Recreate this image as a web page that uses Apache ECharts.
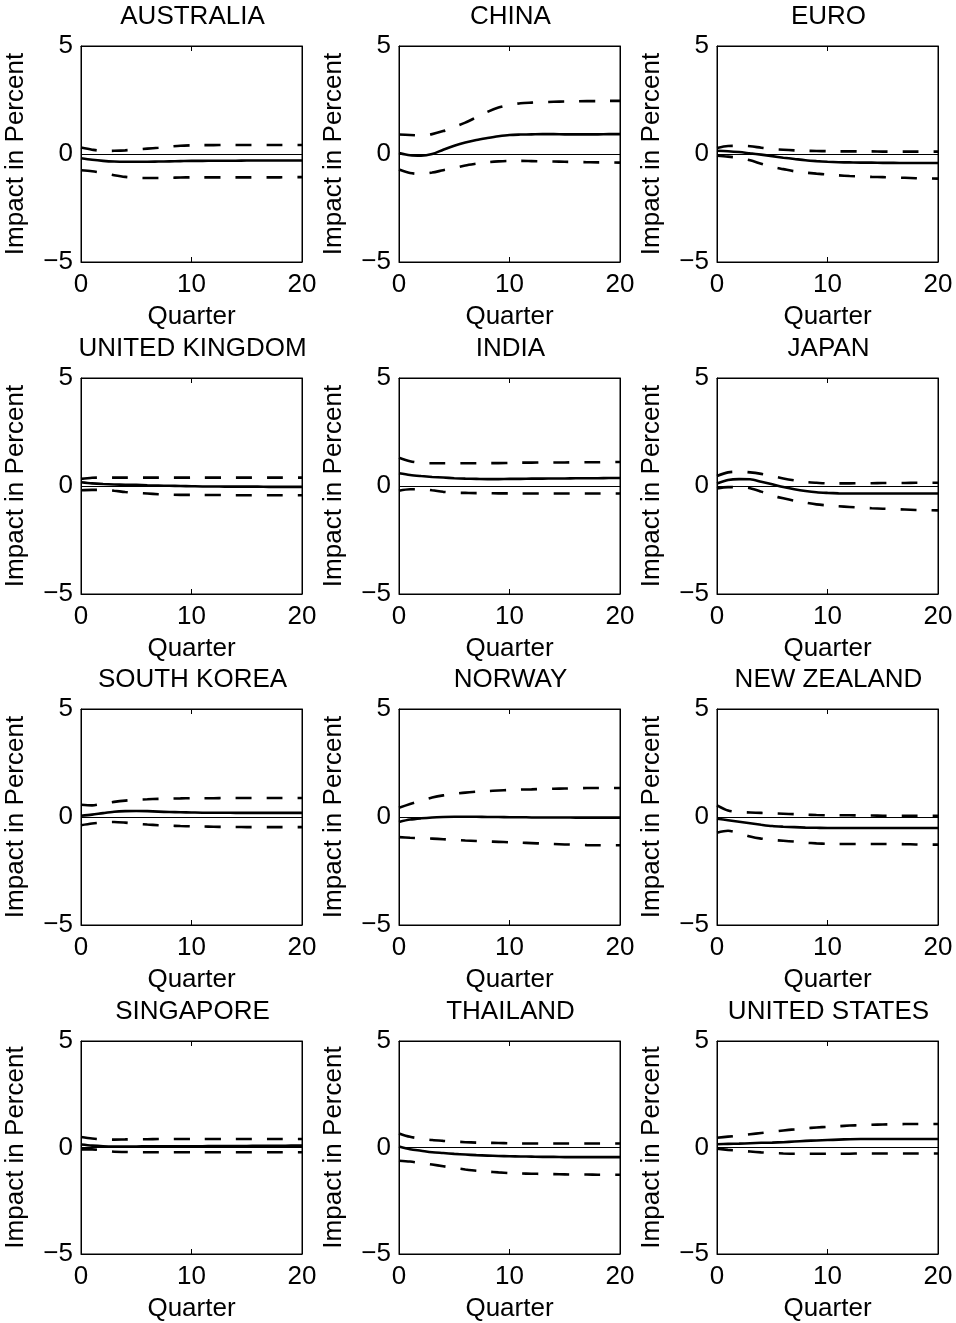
<!DOCTYPE html>
<html>
<head>
<meta charset="utf-8">
<script src="https://cdn.jsdelivr.net/npm/echarts@6/dist/echarts.min.js"></script>
<style>
html,body{margin:0;padding:0;background:#fff;}
#c{width:956px;height:1323px;}
</style>
</head>
<body>
<div id="c"></div>
<script>
// ---- DATA ----
const quarters = [0,1,2,3,4,5,6,7,8,9,10,11,12,13,14,15,16,17,18,19,20];
const countries = ['AUSTRALIA','CHINA','EURO','UNITED KINGDOM','INDIA','JAPAN','SOUTH KOREA','NORWAY','NEW ZEALAND','SINGAPORE','THAILAND','UNITED STATES'];
const xTicks = [0,10,20];
const yTicks = [-5,0,5];

const AUS_mid = [-0.2,-0.27,-0.32,-0.35,-0.36,-0.36,-0.36,-0.35,-0.34,-0.33,-0.32,-0.32,-0.31,-0.31,-0.31,-0.3,-0.3,-0.3,-0.3,-0.3,-0.3];
const AUS_up  = [0.3,0.2,0.14,0.15,0.17,0.21,0.25,0.29,0.34,0.38,0.4,0.41,0.41,0.42,0.42,0.42,0.42,0.42,0.42,0.42,0.42];
const AUS_lo  = [-0.75,-0.8,-0.88,-0.98,-1.06,-1.1,-1.11,-1.11,-1.1,-1.09,-1.08,-1.08,-1.08,-1.08,-1.08,-1.08,-1.08,-1.08,-1.08,-1.07,-1.07];

const CHN_mid = [0.05,-0.06,-0.08,0.0,0.2,0.38,0.53,0.65,0.74,0.82,0.88,0.9,0.91,0.92,0.92,0.91,0.91,0.91,0.91,0.92,0.92];
const CHN_up  = [0.9,0.88,0.86,0.92,1.06,1.25,1.45,1.7,1.95,2.15,2.27,2.35,2.38,2.4,2.42,2.43,2.44,2.45,2.45,2.46,2.46];
const CHN_lo  = [-0.72,-0.88,-0.92,-0.86,-0.75,-0.65,-0.53,-0.45,-0.38,-0.34,-0.32,-0.32,-0.33,-0.34,-0.35,-0.36,-0.37,-0.38,-0.39,-0.39,-0.4];

const EUR_mid = [0.15,0.13,0.09,0.03,-0.03,-0.1,-0.17,-0.23,-0.29,-0.33,-0.36,-0.38,-0.39,-0.4,-0.4,-0.41,-0.41,-0.42,-0.42,-0.42,-0.42];
const EUR_up  = [0.28,0.37,0.38,0.36,0.29,0.23,0.2,0.17,0.15,0.14,0.13,0.12,0.12,0.12,0.12,0.11,0.11,0.11,0.11,0.11,0.11];
const EUR_lo  = [-0.08,-0.12,-0.18,-0.29,-0.45,-0.6,-0.7,-0.8,-0.86,-0.91,-0.95,-0.99,-1.02,-1.04,-1.06,-1.07,-1.09,-1.1,-1.12,-1.13,-1.14];

const GBR_mid = [0.17,0.12,0.09,0.07,0.06,0.05,0.03,0.02,0.01,0,-0.01,-0.02,-0.02,-0.03,-0.03,-0.03,-0.03,-0.04,-0.04,-0.04,-0.04];
const GBR_up  = [0.33,0.38,0.39,0.39,0.39,0.39,0.39,0.39,0.39,0.39,0.39,0.39,0.39,0.39,0.39,0.39,0.39,0.39,0.39,0.39,0.39];
const GBR_lo  = [-0.2,-0.18,-0.18,-0.22,-0.28,-0.32,-0.35,-0.38,-0.4,-0.41,-0.41,-0.42,-0.42,-0.42,-0.43,-0.43,-0.43,-0.43,-0.43,-0.43,-0.43];

const IND_mid = [0.59,0.51,0.46,0.42,0.39,0.36,0.34,0.33,0.32,0.32,0.33,0.33,0.34,0.34,0.35,0.35,0.36,0.36,0.36,0.37,0.37];
const IND_up  = [1.31,1.15,1.07,1.05,1.05,1.05,1.05,1.05,1.06,1.06,1.07,1.08,1.08,1.09,1.09,1.09,1.1,1.1,1.1,1.11,1.11];
const IND_lo  = [-0.22,-0.15,-0.15,-0.2,-0.27,-0.31,-0.32,-0.33,-0.33,-0.34,-0.34,-0.35,-0.35,-0.35,-0.35,-0.35,-0.35,-0.35,-0.35,-0.35,-0.35];

const JPN_mid = [0.12,0.28,0.32,0.31,0.2,0.08,-0.05,-0.15,-0.23,-0.29,-0.32,-0.34,-0.35,-0.35,-0.35,-0.35,-0.35,-0.35,-0.35,-0.35,-0.35];
const JPN_up  = [0.46,0.63,0.66,0.63,0.56,0.46,0.35,0.26,0.19,0.15,0.12,0.12,0.12,0.13,0.13,0.14,0.14,0.14,0.15,0.15,0.15];
const JPN_lo  = [-0.11,-0.05,-0.05,-0.1,-0.26,-0.45,-0.57,-0.68,-0.77,-0.85,-0.9,-0.94,-0.97,-1.0,-1.03,-1.05,-1.07,-1.09,-1.11,-1.12,-1.13];

const KOR_mid = [0.06,0.11,0.18,0.24,0.27,0.28,0.27,0.25,0.23,0.22,0.21,0.2,0.2,0.2,0.19,0.19,0.19,0.19,0.19,0.19,0.19];
const KOR_up  = [0.57,0.54,0.62,0.7,0.76,0.8,0.82,0.84,0.85,0.86,0.87,0.87,0.87,0.88,0.88,0.88,0.88,0.88,0.88,0.88,0.88];
const KOR_lo  = [-0.38,-0.3,-0.25,-0.23,-0.26,-0.31,-0.35,-0.38,-0.4,-0.42,-0.43,-0.44,-0.45,-0.46,-0.46,-0.47,-0.47,-0.47,-0.47,-0.47,-0.47];

const NOR_mid = [-0.23,-0.12,-0.06,-0.02,0,0.01,0.01,0.01,0,0,-0.01,-0.01,-0.02,-0.02,-0.02,-0.02,-0.03,-0.03,-0.03,-0.03,-0.03];
const NOR_up  = [0.43,0.6,0.76,0.9,1.0,1.07,1.13,1.17,1.2,1.23,1.25,1.27,1.28,1.3,1.31,1.32,1.33,1.34,1.34,1.34,1.34];
const NOR_lo  = [-0.93,-0.96,-0.98,-1.0,-1.03,-1.06,-1.09,-1.11,-1.13,-1.15,-1.17,-1.19,-1.21,-1.23,-1.25,-1.27,-1.28,-1.3,-1.31,-1.31,-1.31];

const NZL_mid = [-0.08,-0.15,-0.22,-0.29,-0.36,-0.42,-0.45,-0.47,-0.49,-0.5,-0.51,-0.51,-0.51,-0.51,-0.51,-0.51,-0.51,-0.51,-0.51,-0.51,-0.51];
const NZL_up  = [0.54,0.3,0.23,0.21,0.19,0.17,0.15,0.13,0.11,0.09,0.08,0.08,0.08,0.07,0.07,0.06,0.06,0.06,0.06,0.06,0.06];
const NZL_lo  = [-0.73,-0.64,-0.75,-0.9,-1.0,-1.06,-1.1,-1.14,-1.19,-1.22,-1.24,-1.25,-1.25,-1.25,-1.25,-1.25,-1.25,-1.26,-1.27,-1.28,-1.28];

const SGP_mid = [0.14,0.09,0.06,0.05,0.05,0.05,0.06,0.06,0.06,0.06,0.06,0.06,0.07,0.07,0.07,0.07,0.08,0.08,0.08,0.09,0.09];
const SGP_up  = [0.49,0.42,0.38,0.37,0.38,0.39,0.39,0.4,0.4,0.4,0.4,0.4,0.4,0.4,0.4,0.4,0.4,0.4,0.4,0.4,0.4];
const SGP_lo  = [-0.09,-0.09,-0.14,-0.2,-0.21,-0.22,-0.22,-0.22,-0.22,-0.22,-0.22,-0.22,-0.22,-0.22,-0.22,-0.22,-0.22,-0.22,-0.22,-0.22,-0.22];

const THA_mid = [0.05,-0.08,-0.15,-0.22,-0.26,-0.3,-0.33,-0.36,-0.38,-0.4,-0.41,-0.42,-0.43,-0.44,-0.44,-0.45,-0.45,-0.45,-0.45,-0.45,-0.45];
const THA_up  = [0.66,0.5,0.42,0.35,0.31,0.28,0.25,0.23,0.22,0.21,0.2,0.19,0.19,0.19,0.19,0.19,0.19,0.19,0.19,0.19,0.19];
const THA_lo  = [-0.62,-0.66,-0.73,-0.8,-0.88,-0.96,-1.03,-1.09,-1.13,-1.17,-1.2,-1.22,-1.23,-1.24,-1.25,-1.26,-1.27,-1.27,-1.28,-1.28,-1.28];

const USA_mid = [0.15,0.17,0.18,0.2,0.22,0.23,0.25,0.28,0.31,0.33,0.35,0.37,0.39,0.4,0.4,0.4,0.4,0.4,0.4,0.4,0.4];
const USA_up  = [0.46,0.51,0.56,0.62,0.68,0.74,0.8,0.85,0.9,0.94,0.97,1.0,1.03,1.05,1.07,1.08,1.09,1.1,1.1,1.1,1.1];
const USA_lo  = [-0.06,-0.11,-0.15,-0.19,-0.23,-0.26,-0.28,-0.29,-0.29,-0.29,-0.29,-0.29,-0.29,-0.28,-0.28,-0.28,-0.28,-0.28,-0.28,-0.28,-0.28];

const panels = [
  [AUS_mid, AUS_up, AUS_lo], [CHN_mid, CHN_up, CHN_lo], [EUR_mid, EUR_up, EUR_lo],
  [GBR_mid, GBR_up, GBR_lo], [IND_mid, IND_up, IND_lo], [JPN_mid, JPN_up, JPN_lo],
  [KOR_mid, KOR_up, KOR_lo], [NOR_mid, NOR_up, NOR_lo], [NZL_mid, NZL_up, NZL_lo],
  [SGP_mid, SGP_up, SGP_lo], [THA_mid, THA_up, THA_lo], [USA_mid, USA_up, USA_lo]
];

// ---- LAYOUT ----
const FONT = "'Liberation Sans', Arial, Helvetica, sans-serif";
const FS = 26;
const colLeft = [81, 399, 717];
const rowTop = [46, 378, 709, 1041];
const W = 221, H = 216;

const grids = [], xAxes = [], yAxes = [], titles = [], series = [];
const pair = v => quarters.map((q, i) => [q, v[i]]);
const fmtY = v => v < 0 ? '\u2212' + (-v) : String(v);

for (let i = 0; i < 12; i++) {
  const r = Math.floor(i / 3), c = i % 3;
  grids.push({left: colLeft[c], top: rowTop[r], width: W, height: H,
    show: true, borderColor: '#000', borderWidth: 1, backgroundColor: '#fff'});
  titles.push({text: countries[i], left: colLeft[c] + W / 2 + 1, top: rowTop[r] - 42, textAlign: 'center',
    padding: 0,
    textStyle: {fontFamily: FONT, fontSize: FS, fontWeight: 'normal', color: '#000'}});
}
for (let i = 0; i < 12; i++) {
  xAxes.push({type: 'value', gridIndex: i, min: 0, max: 20, interval: 10,
    name: 'Quarter', nameLocation: 'middle', nameGap: 42,
    nameTextStyle: {fontFamily: FONT, fontSize: FS, color: '#000'},
    axisLine: {show: true, onZero: false, lineStyle: {color: '#000', width: 1}},
    axisTick: {show: true, inside: true, length: 5, lineStyle: {color: '#000'}},
    axisLabel: {fontFamily: FONT, fontSize: FS, color: '#000', margin: 10},
    splitLine: {show: false}});
  yAxes.push({type: 'value', gridIndex: i, min: -5, max: 5, interval: 5,
    name: 'Impact in Percent', nameLocation: 'middle', nameGap: 52, nameRotate: 90,
    nameTextStyle: {fontFamily: FONT, fontSize: FS, color: '#000'},
    axisLine: {show: true, onZero: false, lineStyle: {color: '#000', width: 1}},
    axisTick: {show: true, inside: true, length: 5, lineStyle: {color: '#000'}},
    axisLabel: {fontFamily: FONT, fontSize: FS, color: '#000', margin: 8, formatter: fmtY},
    splitLine: {show: false}});
}
for (let i = 0; i < 12; i++) {
  xAxes.push({type: 'value', gridIndex: i, position: 'top', min: 0, max: 20, interval: 10,
    axisLine: {show: true, onZero: false, lineStyle: {color: '#000', width: 1}},
    axisTick: {show: true, inside: true, length: 5, lineStyle: {color: '#000'}},
    axisLabel: {show: false}, splitLine: {show: false}});
  yAxes.push({type: 'value', gridIndex: i, position: 'right', min: -5, max: 5, interval: 5,
    axisLine: {show: true, onZero: false, lineStyle: {color: '#000', width: 1}},
    axisTick: {show: true, inside: true, length: 5, lineStyle: {color: '#000'}},
    axisLabel: {show: false}, splitLine: {show: false}});
}
for (let i = 0; i < 12; i++) {
  const [mid, up, lo] = panels[i];
  series.push({type: 'line', xAxisIndex: i, yAxisIndex: i, data: pair(mid), smooth: 0.3,
    showSymbol: false, lineStyle: {color: '#000', width: 2.6, type: 'solid'},
    markLine: {silent: true, symbol: 'none', label: {show: false},
      lineStyle: {color: '#000', width: 1, type: 'solid'}, data: [{yAxis: 0}]},
    z: 3});
  [up, lo].forEach(d => series.push({type: 'line', xAxisIndex: i, yAxisIndex: i, data: pair(d),
    smooth: 0.3, showSymbol: false, lineStyle: {color: '#000', width: 2.6, type: [16, 15]}, z: 3}));
}

const chart = echarts.init(document.getElementById('c'), null, {renderer: 'canvas'});
chart.setOption({
  animation: false,
  backgroundColor: '#fff',
  title: titles, grid: grids, xAxis: xAxes, yAxis: yAxes, series: series
});
</script>
</body>
</html>
